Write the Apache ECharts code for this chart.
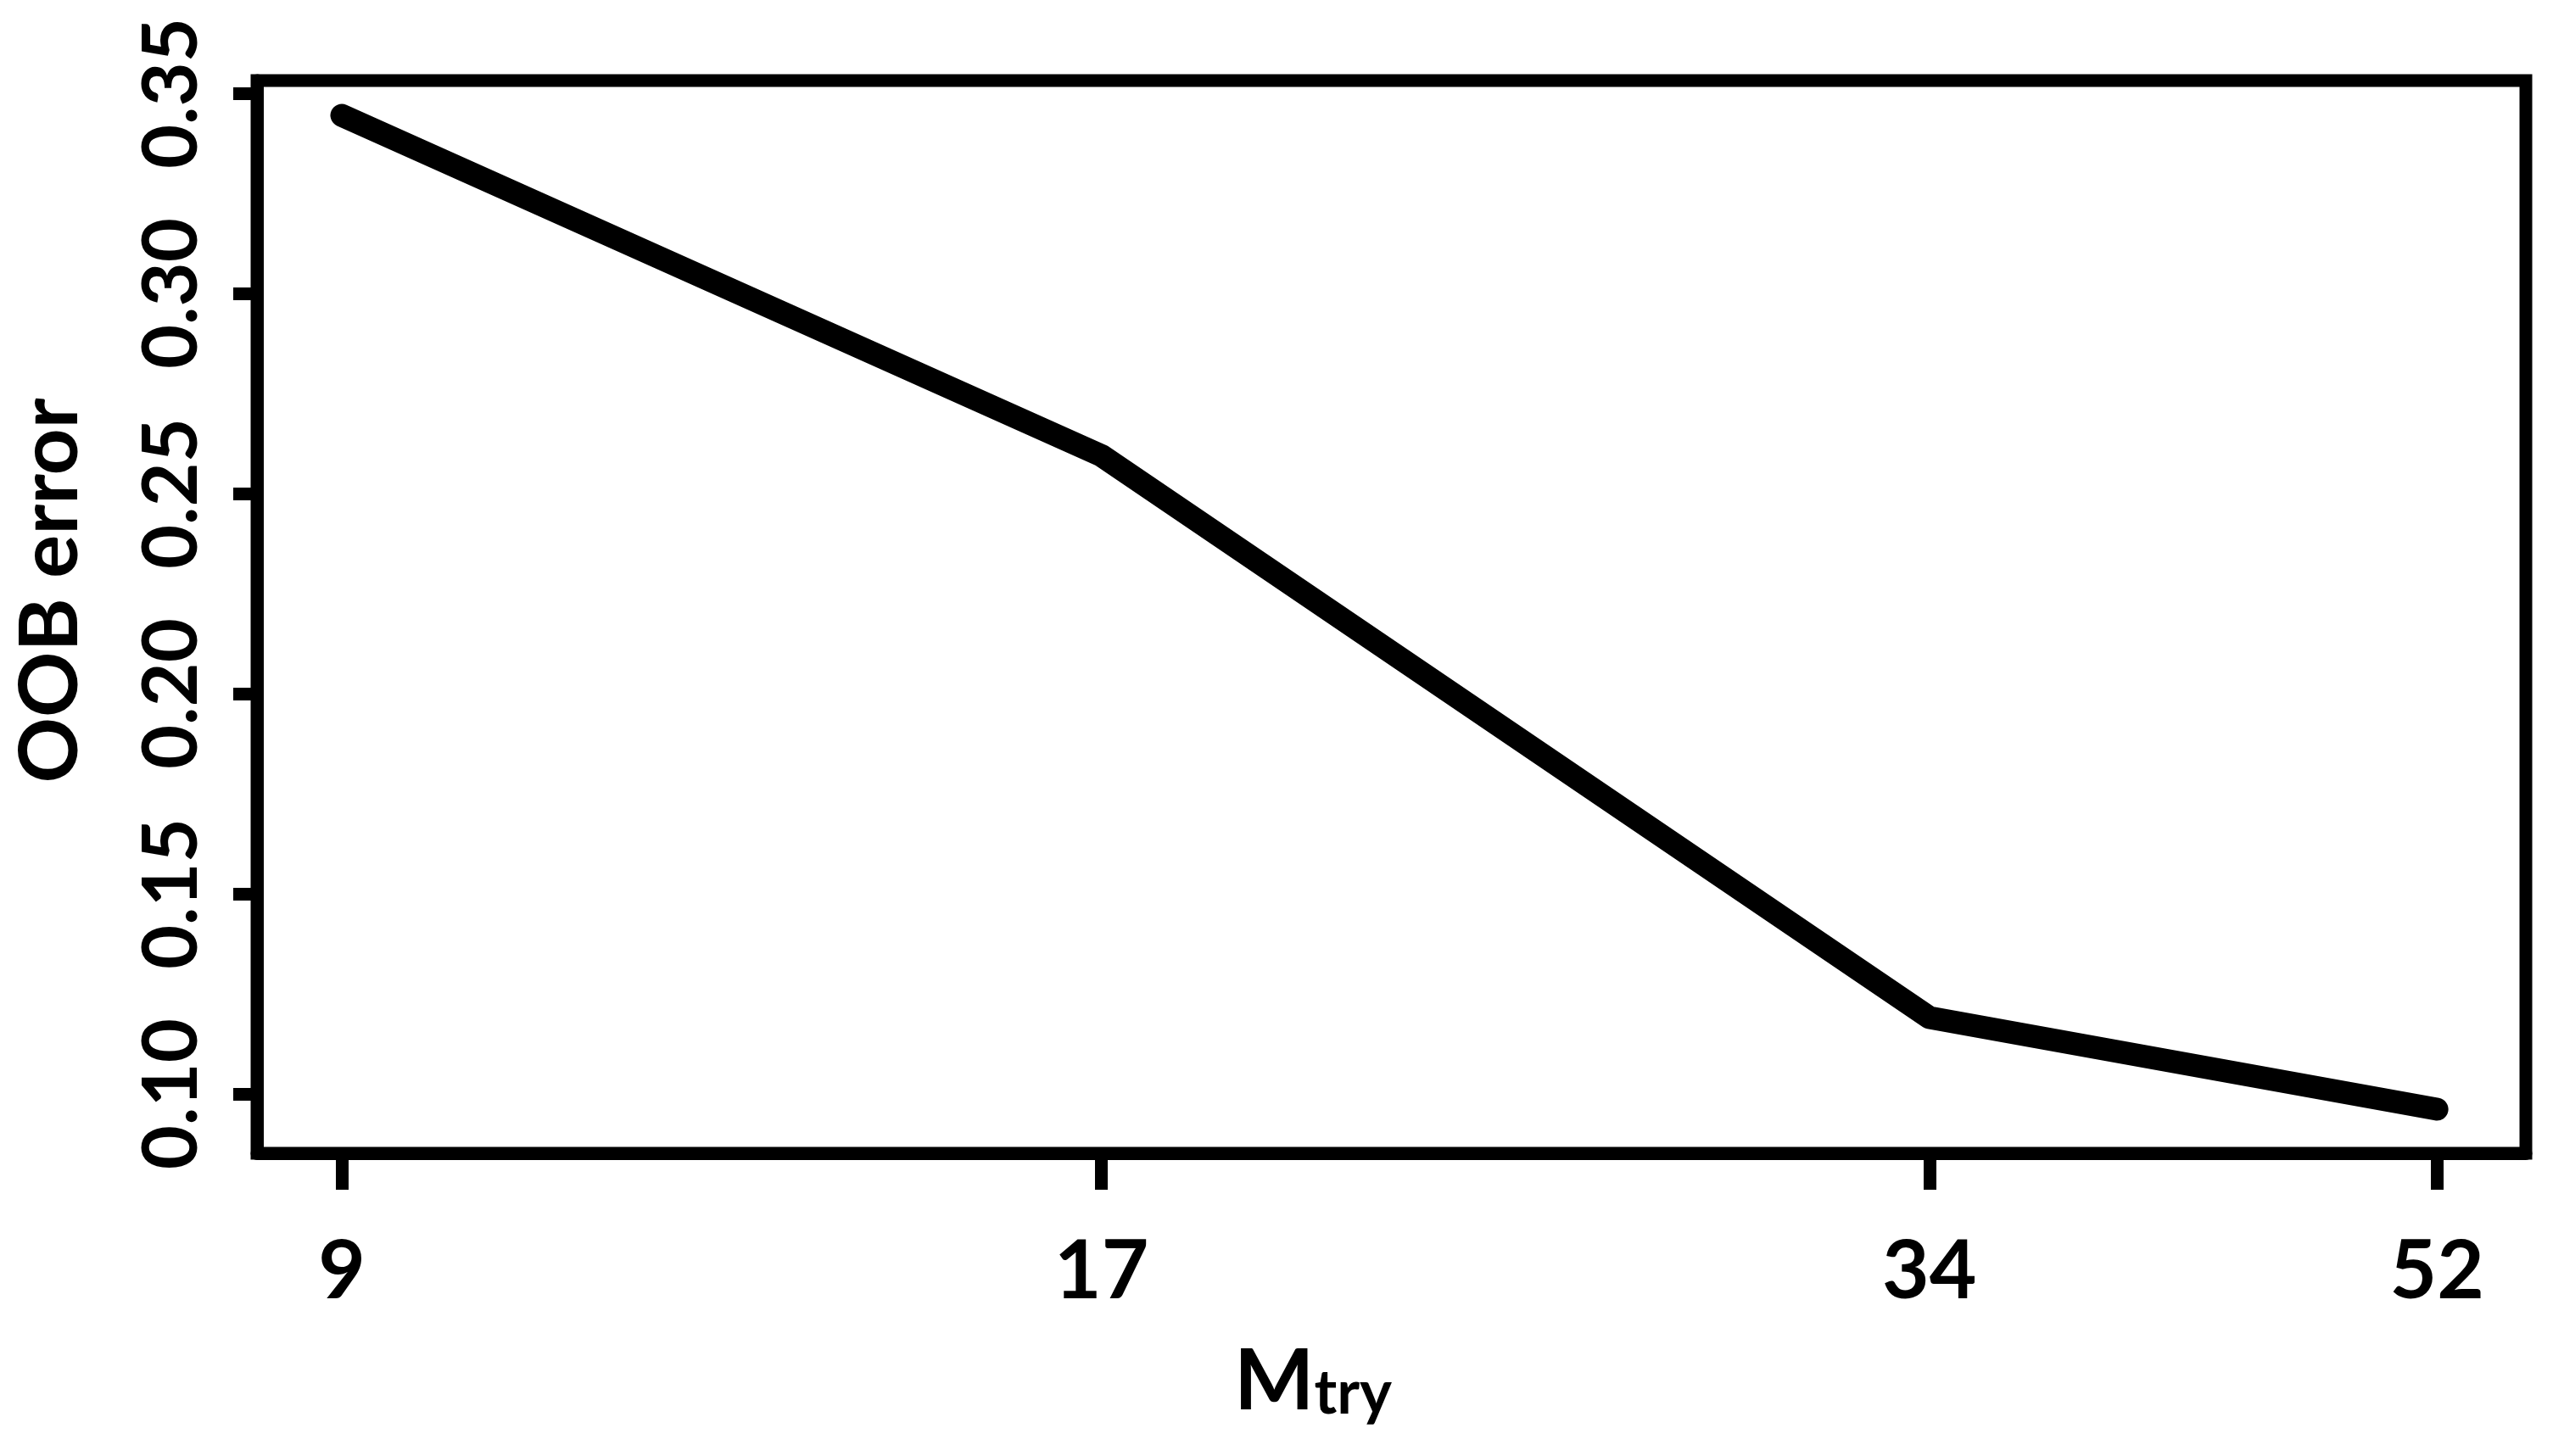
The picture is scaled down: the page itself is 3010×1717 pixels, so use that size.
<!DOCTYPE html>
<html>
<head>
<meta charset="utf-8">
<script src="https://cdn.jsdelivr.net/npm/echarts@6/dist/echarts.min.js"></script>
<style>
  html, body { margin: 0; padding: 0; background: #ffffff; }
  #chart { width: 3010px; height: 1717px; }
</style>
</head>
<body>
<div id="chart"></div>
<script>
// Data
const mtry = [9, 17, 34, 52];
const oobError = [0.3445, 0.2595, 0.1191, 0.0962];
const xTicks = [9, 17, 34, 52];
const yTicks = [0.10, 0.15, 0.20, 0.25, 0.30, 0.35];

const FONT = 'Lato';
const chart = echarts.init(document.getElementById('chart'), null, { renderer: 'canvas' });

const points = mtry.map((m, i) => [m, oobError[i]]);

chart.setOption({
  backgroundColor: '#ffffff',
  animation: false,
  grid: {
    left: 303, right: 32, top: 95, bottom: 357,
    show: true, borderColor: '#000', borderWidth: 15,
    backgroundColor: 'transparent',
    containLabel: false,
    outerBoundsMode: 'none'
  },
  xAxis: {
    type: 'log',
    logBase: 10,
    min: 8.383,
    max: 56.02,
    name: '{m|M}{s|try}',
    nameLocation: 'middle',
    nameGap: 220,
    nameTextStyle: {
      padding: [0, 185, 0, 0],
      rich: {
        m: { fontFamily: FONT, fontWeight: 'bold', fontSize: 100, color: '#000', verticalAlign: 'bottom', lineHeight: 100 },
        s: { fontFamily: FONT, fontWeight: 'bold', fontSize: 72, color: '#000', verticalAlign: 'bottom', lineHeight: 60 }
      }
    },
    axisLine: { show: true, onZero: false, lineStyle: { color: '#000', width: 15 } },
    axisTick: { show: true, length: 43, customValues: xTicks, lineStyle: { color: '#000', width: 15 } },
    axisLabel: {
      customValues: xTicks,
      margin: 92,
      fontFamily: FONT, fontWeight: 'bold', fontSize: 96, color: '#000',
      formatter: v => String(Math.round(v))
    },
    splitLine: { show: false },
    minorTick: { show: false }
  },
  yAxis: {
    type: 'value',
    min: 0.0852,
    max: 0.3532,
    name: 'OOB error',
    nameLocation: 'middle',
    nameRotate: 90,
    nameGap: 195,
    nameTextStyle: {
      fontFamily: FONT, fontWeight: 'bold', fontSize: 96, color: '#000',
      padding: [0, 0, 0, 62]
    },
    axisLine: { show: true, lineStyle: { color: '#000', width: 15 } },
    axisTick: { show: true, length: 28, customValues: yTicks, lineStyle: { color: '#000', width: 15 } },
    axisLabel: {
      customValues: yTicks,
      rotate: 90,
      margin: 55,
      fontFamily: FONT, fontWeight: 'bold', fontSize: 90, color: '#000',
      formatter: v => v.toFixed(2)
    },
    splitLine: { show: false }
  },
  series: [{
    type: 'line',
    data: points,
    showSymbol: false,
    symbol: 'none',
    lineStyle: { color: '#000', width: 27, cap: 'round', join: 'round' },
    silent: true
  }]
});
</script>
</body>
</html>
